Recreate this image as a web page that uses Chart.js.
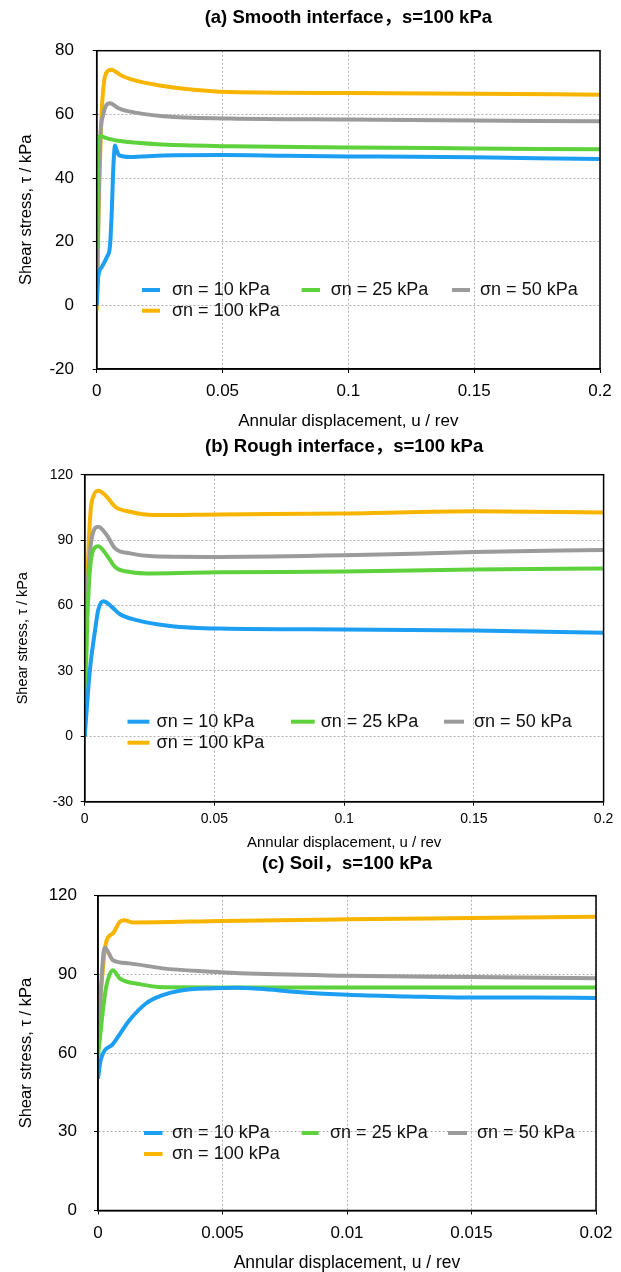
<!DOCTYPE html>
<html>
<head>
<meta charset="utf-8">
<script src="https://cdn.jsdelivr.net/npm/chart.js@4.4.0/dist/chart.umd.min.js"></script>
<style>
  html, body { margin: 0; padding: 0; background: #fff; }
  #wrap { position: relative; width: 621px; height: 1272px; overflow: hidden; }
  canvas { position: absolute; left: 0; }
</style>
</head>
<body>
<div id="wrap">
  <canvas id="chartA" width="621" height="440" style="top:0"></canvas>
  <canvas id="chartB" width="621" height="432" style="top:426px"></canvas>
  <canvas id="chartC" width="621" height="426" style="top:846px"></canvas>
</div>
<script>
// ── data (x = annular displacement u/rev, y = shear stress kPa) ──
const seriesLabels = ['σn = 10 kPa', 'σn = 25 kPa', 'σn = 50 kPa', 'σn = 100 kPa'];

// (a) smooth interface
const smooth10 = [[0,0],[0.0006,8.9],[0.002,12],[0.004,15.1],[0.0053,18.8],[0.006,29.7],[0.0066,43.2],[0.0073,50.2],[0.0078,49],[0.009,47.1],[0.0132,46.6],[0.0265,47.1],[0.05,47.2],[0.075,47],[0.1,46.8],[0.125,46.7],[0.15,46.5],[0.175,46.2],[0.2,46]];
const smooth25 = [[0,17.7],[0.0003,50],[0.0013,53.1],[0.005,52.3],[0.0093,51.6],[0.0265,50.5],[0.053,50],[0.1,49.6],[0.15,49.3],[0.2,49]];
const smooth50 = [[0,0],[0.0005,20],[0.0013,50.5],[0.0026,59.9],[0.0053,63.5],[0.0085,62],[0.0119,61.1],[0.0265,59.4],[0.053,58.7],[0.1,58.4],[0.15,58.1],[0.2,57.8]];
const smooth100 = [[0,-1.5],[0.0002,3],[0.0006,24.5],[0.0013,45],[0.002,61],[0.0029,70],[0.0046,73.7],[0.006,74],[0.0079,73.2],[0.0106,71.9],[0.0199,69.8],[0.033,68.2],[0.053,67],[0.1,66.7],[0.15,66.5],[0.2,66.2]];

// (b) rough interface
const rough10 = [[0,0],[0.002,30.3],[0.004,48.7],[0.0052,57.9],[0.0072,62],[0.0104,59.4],[0.0136,56],[0.02,53.3],[0.0329,50.6],[0.052,49.4],[0.1,49],[0.15,48.5],[0.2,47.5]];
const rough25 = [[0,0],[0.0008,45.6],[0.002,76],[0.0033,85.4],[0.0052,87.2],[0.0085,83.1],[0.0117,77.7],[0.0175,75.4],[0.0264,74.7],[0.052,75.2],[0.1,75.6],[0.15,76.5],[0.2,77]];
const rough50 = [[0,0],[0.0008,56],[0.002,83.9],[0.0033,93.8],[0.0052,96.1],[0.0085,92.3],[0.0117,86.2],[0.0175,83.9],[0.0264,82.6],[0.052,82.3],[0.1,83],[0.15,84.5],[0.2,85.5]];
const rough100 = [[0,0],[0.0008,60.9],[0.0014,83.9],[0.0023,103.8],[0.0033,109.9],[0.0052,112.6],[0.0085,109.9],[0.0117,105.3],[0.0175,103],[0.0264,101.5],[0.052,101.8],[0.1,102.2],[0.15,103.2],[0.2,102.7]];

// (c) soil
const soil10 = [[0,50.2],[0.0001,57],[0.0006,63.5],[0.00127,72.6],[0.00194,79],[0.0026,82.1],[0.00328,83.8],[0.0046,84.7],[0.0056,84.9],[0.0065,84.5],[0.008,83.3],[0.01,82.2],[0.0125,81.6],[0.015,81.2],[0.0175,81.2],[0.02,81]];
const soil25 = [[0,58.7],[0.0002,76.4],[0.00033,85.3],[0.0006,91.6],[0.00087,88.5],[0.00167,86.3],[0.0026,85.1],[0.005,85],[0.01,85],[0.015,85],[0.02,85]];
const soil50 = [[0,65],[0.00027,100.3],[0.0006,95.4],[0.00127,94.2],[0.0026,92.3],[0.0046,91],[0.0057,90.4],[0.01,89.5],[0.015,89],[0.02,88.5]];
const soil100 = [[0,70],[0.00033,102.4],[0.0006,105.6],[0.00087,110],[0.00107,110.6],[0.0014,109.8],[0.005,110.4],[0.01,111],[0.015,111.5],[0.02,112]];

// tick values
const smoothXTicks = [0, 0.05, 0.1, 0.15, 0.2];
const smoothYTicks = [-20, 0, 20, 40, 60, 80];
const roughXTicks = [0, 0.05, 0.1, 0.15, 0.2];
const roughYTicks = [-30, 0, 30, 60, 90, 120];
const soilXTicks = [0, 0.005, 0.01, 0.015, 0.02];
const soilYTicks = [0, 30, 60, 90, 120];

const COLORS = ['#1c9ff2', '#5ed23c', '#9b9b9b', '#f7b500'];
const FONT = '"Liberation Sans", Arial, "Noto Sans CJK SC", sans-serif';
Chart.defaults.font.family = FONT;
Chart.defaults.color = '#000';

// box, panel title and in-plot legend
const panelDeco = {
  id: 'panelDeco',
  afterDraw(chart, args, opts) {
    const { ctx, chartArea: a } = chart;
    ctx.save();
    ctx.setLineDash([]);
    ctx.strokeStyle = '#000';
    ctx.lineWidth = 1.5;
    ctx.strokeRect(a.left, a.top, a.right - a.left, a.bottom - a.top);

    ctx.fillStyle = '#000';
    ctx.textAlign = 'center';
    ctx.textBaseline = 'middle';
    ctx.font = `bold ${opts.titleSize}px ${FONT}`;
    ctx.fillText(opts.title, (a.left + a.right) / 2, opts.titleY);

    ctx.font = `${opts.legendSize}px ${FONT}`;
    ctx.textAlign = 'left';
    chart.data.datasets.forEach((ds, i) => {
      const [x0, x1, tx, y] = opts.legend[i];
      ctx.strokeStyle = ds.borderColor;
      ctx.lineWidth = 4;
      ctx.beginPath(); ctx.moveTo(x0, y); ctx.lineTo(x1, y); ctx.stroke();
      ctx.fillStyle = '#111';
      ctx.fillText(ds.label, tx, y);
    });
    ctx.restore();
  }
};

const fmt = v => String(+(+v).toFixed(4));

function makePanel(id, p) {
  const axis = (ticks, t) => ({
    type: 'linear',
    min: ticks[0],
    max: ticks[ticks.length - 1],
    ticks: { stepSize: ticks[1] - ticks[0], font: { size: t.tickSize }, padding: t.tickPad, callback: fmt, autoSkip: false, maxRotation: 0 },
    grid: { color: '#b0b0b0', lineWidth: 1, tickLength: 4, tickColor: '#000', tickWidth: 1, tickBorderDash: [] },
    border: { display: true, color: '#000', width: 1.5, dash: [2, 2] },
    title: { display: true, text: t.title, font: { size: t.titleSize, lineHeight: 1 }, padding: t.titlePad }
  });
  const x = axis(p.xTicks, p.x);
  x.afterFit = s => { s.height = p.x.size; };
  const y = axis(p.yTicks, p.y);
  y.afterFit = s => { s.width = p.y.size; };

  return new Chart(document.getElementById(id), {
    type: 'line',
    data: {
      datasets: p.series.map((s, i) => ({
        label: seriesLabels[i],
        data: s.map(([u, tau]) => ({ x: u, y: tau })),
        borderColor: COLORS[i],
        borderWidth: 4,
        pointRadius: 0,
        fill: false,
        cubicInterpolationMode: 'monotone'
      }))
    },
    options: {
      responsive: false,
      animation: false,
      events: [],
      layout: { padding: p.pad },
      plugins: { legend: { display: false }, tooltip: { enabled: false }, panelDeco: p.deco },
      scales: { x, y }
    },
    plugins: [panelDeco]
  });
}

const XTITLE = 'Annular displacement, u / rev';
const YTITLE = 'Shear stress, τ / kPa';

makePanel('chartA', {
  series: [smooth10, smooth25, smooth50, smooth100],
  xTicks: smoothXTicks, yTicks: smoothYTicks,
  pad: { top: 50.7, right: 21, bottom: 0, left: 0 },
  x: { size: 71, tickSize: 17, tickPad: 7.8, title: XTITLE, titleSize: 17, titlePad: { top: 0, bottom: 10.5 } },
  y: { size: 96.7, tickSize: 17, tickPad: 18.7, title: YTITLE, titleSize: 16.5, titlePad: { top: 17.75, bottom: 0 } },
  deco: { title: '(a) Smooth interface，s=100 kPa', titleSize: 18.5, titleY: 18, legendSize: 18,
    legend: [[142, 160, 172, 290], [301.6, 320, 330.7, 290], [452, 470, 480, 290], [142, 160, 172, 310.7]] }
});

makePanel('chartB', {
  series: [rough10, rough25, rough50, rough100],
  xTicks: roughXTicks, yTicks: roughYTicks,
  pad: { top: 48.7, right: 17.4, bottom: 0, left: 0 },
  x: { size: 56.3, tickSize: 14, tickPad: 4.9, title: XTITLE, titleSize: 15, titlePad: { top: 0, bottom: 7.5 } },
  y: { size: 84.7, tickSize: 14, tickPad: 7.7, title: YTITLE, titleSize: 14.5, titlePad: { top: 15.25, bottom: 0 } },
  deco: { title: '(b) Rough interface，s=100 kPa', titleSize: 18.5, titleY: 21, legendSize: 18,
    legend: [[127.5, 149.4, 156.6, 295.7], [291, 314.7, 320.7, 295.7], [444, 464, 474, 295.7], [127.5, 149.4, 156.6, 316.7]] }
});

makePanel('chartC', {
  series: [soil10, soil25, soil50, soil100],
  xTicks: soilXTicks, yTicks: soilYTicks,
  pad: { top: 49.7, right: 25, bottom: 0, left: 0 },
  x: { size: 61.5, tickSize: 17, tickPad: 8.3, title: XTITLE, titleSize: 17.5, titlePad: { top: 0, bottom: 0.5 } },
  y: { size: 98, tickSize: 17, tickPad: 17, title: YTITLE, titleSize: 16.5, titlePad: { top: 17.75, bottom: 0 } },
  deco: { title: '(c) Soil，s=100 kPa', titleSize: 18.5, titleY: 18, legendSize: 18,
    legend: [[144, 162.5, 172, 287], [301.6, 318.7, 330, 287], [448, 467, 477, 287], [144, 162.5, 172, 308]] }
});
</script>
</body>
</html>
